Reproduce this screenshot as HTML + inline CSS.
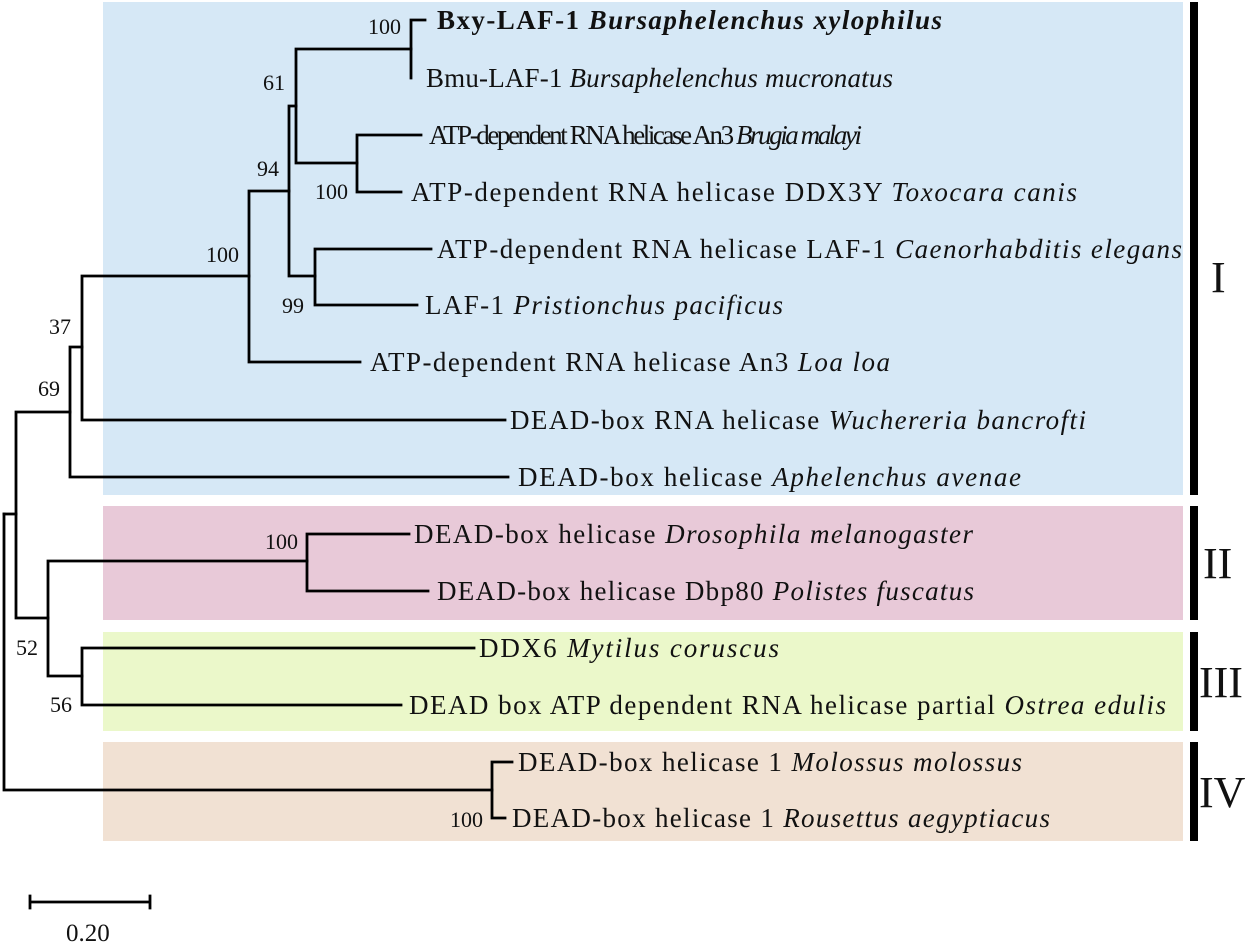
<!DOCTYPE html>
<html><head><meta charset="utf-8"><style>
html,body{margin:0;padding:0;background:#fff;}
svg{display:block;}
text{font-family:"Liberation Serif",serif;fill:#111;}
.l{font-size:27px;}
.b{font-size:22px;}
.r{font-size:44px;}
</style></head><body>
<svg width="1250" height="943" viewBox="0 0 1250 943" xmlns="http://www.w3.org/2000/svg">
<rect x="103" y="2" width="1080" height="493" fill="#d6e8f6"/>
<rect x="103" y="506" width="1080" height="114" fill="#e8c9d8"/>
<rect x="103" y="632" width="1080" height="99" fill="#ebf8ca"/>
<rect x="103" y="742" width="1080" height="99" fill="#f1e1d3"/>
<g fill="#000">
<rect x="1190" y="2" width="8" height="493"/>
<rect x="1190" y="506" width="8" height="114"/>
<rect x="1190" y="632" width="8" height="99"/>
<rect x="1190" y="742" width="8" height="99"/>
</g>
<g stroke="#000" stroke-width="2.8" fill="none" stroke-linecap="square">
<path d="M425 20H411V78"/>
<path d="M411 49H296V163H357"/>
<path d="M421 135H357V192H401"/>
<path d="M296 106H289V276H315"/>
<path d="M431 249H315V305H417"/>
<path d="M289 191H249V362H360"/>
<path d="M249 276H82V420H505"/>
<path d="M82 347H70V477H508"/>
<path d="M70 412H16V618H48"/>
<path d="M4 514H16"/>
<path d="M409 534H307V591H428"/>
<path d="M307 561H48V676H82"/>
<path d="M474 648H82V705H401"/>
<path d="M4 514V790H492"/>
<path d="M512 762H492V818H505"/>
<path d="M30 902H150M30 896V908M150 896V908"/>
</g>
<text class="l" x="437" y="29" textLength="505" style="font-weight:bold">Bxy-LAF-1 <tspan font-style="italic">Bursaphelenchus xylophilus</tspan></text>
<text class="l" x="426" y="87" textLength="467">Bmu-LAF-1 <tspan font-style="italic">Bursaphelenchus mucronatus</tspan></text>
<text class="l" x="429" y="144" textLength="433">ATP-dependent RNA helicase An3 <tspan font-style="italic">Brugia malayi</tspan></text>
<text class="l" x="411" y="201" textLength="666">ATP-dependent RNA helicase DDX3Y <tspan font-style="italic">Toxocara canis</tspan></text>
<text class="l" x="437" y="258" textLength="745">ATP-dependent RNA helicase LAF-1 <tspan font-style="italic">Caenorhabditis elegans</tspan></text>
<text class="l" x="425" y="314" textLength="358">LAF-1 <tspan font-style="italic">Pristionchus pacificus</tspan></text>
<text class="l" x="370" y="371" textLength="520">ATP-dependent RNA helicase An3 <tspan font-style="italic">Loa loa</tspan></text>
<text class="l" x="510" y="429" textLength="576">DEAD-box RNA helicase <tspan font-style="italic">Wuchereria bancrofti</tspan></text>
<text class="l" x="518" y="486" textLength="503">DEAD-box  helicase <tspan font-style="italic">Aphelenchus avenae</tspan></text>
<text class="l" x="414" y="543" textLength="559">DEAD-box helicase <tspan font-style="italic">Drosophila melanogaster</tspan></text>
<text class="l" x="437" y="600" textLength="537">DEAD-box helicase Dbp80 <tspan font-style="italic">Polistes fuscatus</tspan></text>
<text class="l" x="479" y="657" textLength="300">DDX6 <tspan font-style="italic">Mytilus coruscus</tspan></text>
<text class="l" x="409" y="714" textLength="757">DEAD box ATP dependent RNA helicase partial <tspan font-style="italic">Ostrea edulis</tspan></text>
<text class="l" x="518" y="771" textLength="504">DEAD-box helicase 1 <tspan font-style="italic">Molossus molossus</tspan></text>
<text class="l" x="512" y="827" textLength="538">DEAD-box helicase 1 <tspan font-style="italic">Rousettus aegyptiacus</tspan></text>
<text class="b" x="368" y="34">100</text>
<text class="b" x="263" y="90">61</text>
<text class="b" x="257" y="176">94</text>
<text class="b" x="315" y="199">100</text>
<text class="b" x="206" y="262">100</text>
<text class="b" x="282" y="313">99</text>
<text class="b" x="49" y="334">37</text>
<text class="b" x="38" y="396">69</text>
<text class="b" x="265" y="549">100</text>
<text class="b" x="16" y="655">52</text>
<text class="b" x="50" y="712">56</text>
<text class="b" x="450" y="827">100</text>
<text x="66" y="941" style="font-size:25px">0.20</text>
<text class="r" x="1211" y="292">I</text>
<text class="r" x="1203" y="578">II</text>
<text class="r" x="1199" y="697">III</text>
<text class="r" x="1199" y="807">IV</text>
</svg>
</body></html>
